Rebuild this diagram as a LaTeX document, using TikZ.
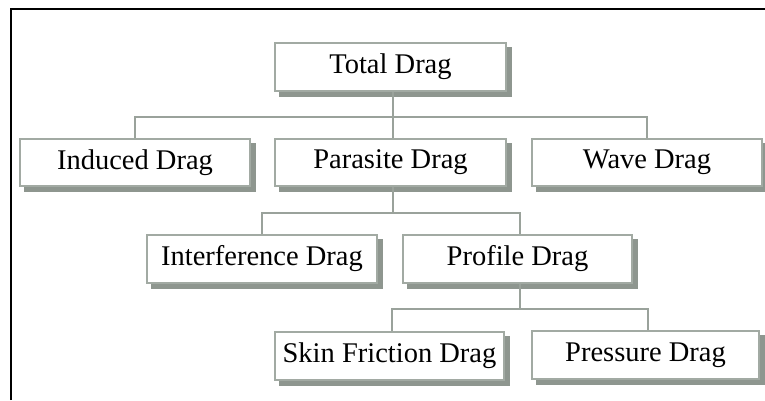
\documentclass[tikz,border=0pt]{standalone}
\usepackage{fontspec}
\setmainfont{Liberation Serif}
\begin{document}
\begin{tikzpicture}[x=1pt,y=-1pt,
  dragbox/.style={draw=boxline, line width=1.2pt, fill=white, rectangle,
    minimum height=48pt, inner sep=0pt,
    preaction={fill=shade, draw=shade, line width=1.2pt,
      transform canvas={shift={(5pt,-5pt)}}},
    font=\fontsize{28.5}{30}\selectfont},
  link/.style={draw=linkgray, line width=2pt}]
  \definecolor{boxline}{HTML}{A2AAA3}
  \definecolor{shade}{HTML}{8E968F}
  \definecolor{linkgray}{HTML}{9AA29B}
  \useasboundingbox (0,0) rectangle (765,400);
  \fill[white] (0,0) rectangle (765,400);
  % outer frame (only the top and left edges fall inside the page)
  \draw[line width=2pt] (11,400) -- (11,9) -- (765,9);

  \node[dragbox, minimum width=231pt] (total) at (390.5,67) {Total Drag};
  \node[dragbox, minimum width=230pt, minimum height=47pt] (induced) at (135,162.5) {Induced Drag};
  \node[dragbox, minimum width=231pt, minimum height=47pt] (parasite) at (390.5,162.5) {Parasite Drag};
  \node[dragbox, minimum width=230pt, minimum height=47pt] (wave) at (647,162.5) {Wave Drag};
  \node[dragbox, minimum width=230pt] (interference) at (262,259) {Interference Drag};
  \node[dragbox, minimum width=229pt] (profile) at (517.5,259) {Profile Drag};
  \node[dragbox, minimum width=229pt] (skin) at (389.5,356) {Skin Friction Drag};
  \node[dragbox, minimum width=227pt] (pressure) at (645.5,355) {Pressure Drag};

  % bus lines between levels
  \coordinate (bus1) at (0,117);
  \coordinate (bus2) at (0,213);
  \coordinate (bus3) at (0,309);

  \draw[link] ([xshift=2.5pt]total.south) -- ([xshift=2.5pt]total.south |- bus1);
  \draw[link] (induced.north) -- (induced.north |- bus1) -- (wave.north |- bus1) -- (wave.north);
  \draw[link] ([xshift=2.5pt]parasite.north) -- ([xshift=2.5pt]parasite.north |- bus1);

  \draw[link] ([xshift=2.5pt]parasite.south) -- ([xshift=2.5pt]parasite.south |- bus2);
  \draw[link] (interference.north) -- (interference.north |- bus2) -- ([xshift=2.5pt]profile.north |- bus2) -- ([xshift=2.5pt]profile.north);

  \draw[link] ([xshift=2.5pt]profile.south) -- ([xshift=2.5pt]profile.south |- bus3);
  \draw[link] ([xshift=2.5pt]skin.north) -- ([xshift=2.5pt]skin.north |- bus3) -- ([xshift=2.5pt]pressure.north |- bus3) -- ([xshift=2.5pt]pressure.north);
\end{tikzpicture}
\end{document}
